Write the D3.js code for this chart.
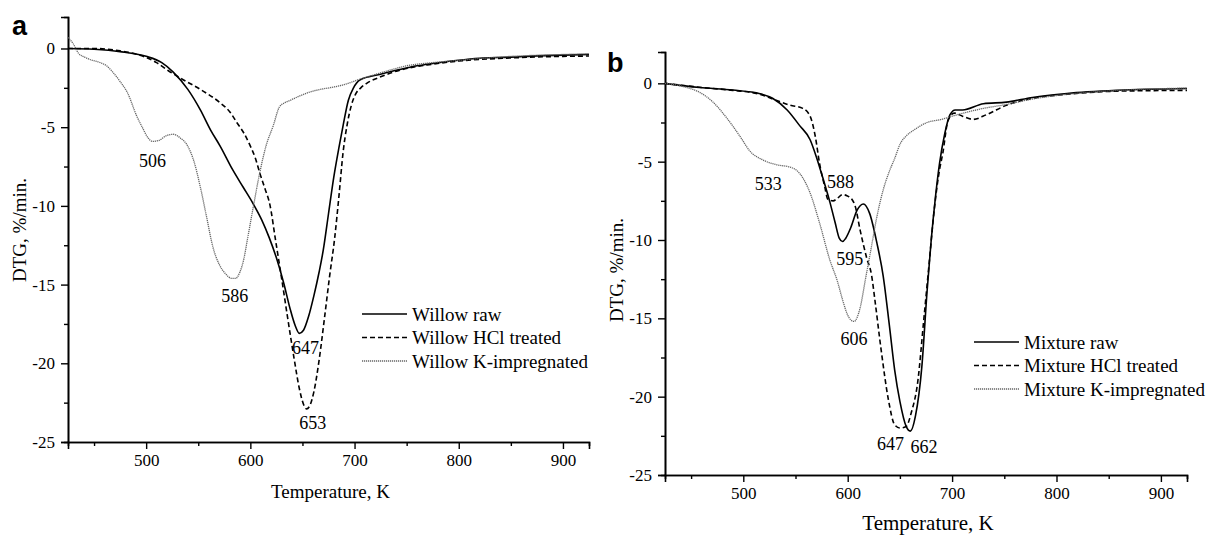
<!DOCTYPE html>
<html><head><meta charset="utf-8">
<script src="https://cdn.jsdelivr.net/npm/d3@7"></script>
<style>body{margin:0;background:#fff}svg{display:block}</style>
</head><body>
<svg id="c" width="1206" height="535"></svg>
<script>
// ---------- DATA ----------
const xMajorTicks = [500, 600, 700, 800, 900];
const xMinorTicks = [450, 550, 650, 750, 850];
const yMajorTicks = [0, -5, -10, -15, -20, -25];
const yMinorTicks = [-2.5, -7.5, -12.5, -17.5, -22.5];

// Panel a — Willow
const willowRawT = [425,450,475,500,515,526,540,552,562,571,583,593,603,611,618,625,632,638,643,647,651,656,661,666,670,675,680,685,689,694,699,705,724,743,760,775,800,823,850,875,900,925];
const willowRawV = [0,-0.05,-0.2,-0.5,-0.9,-1.5,-2.6,-3.9,-5.2,-6.2,-7.7,-8.8,-9.9,-10.9,-12.0,-13.3,-14.9,-16.5,-17.6,-18.1,-17.9,-17.0,-15.7,-14.2,-12.8,-10.5,-8.2,-6.3,-4.9,-3.3,-2.5,-2.0,-1.65,-1.34,-1.1,-0.95,-0.75,-0.6,-0.55,-0.47,-0.42,-0.38];
const willowHclT = [425,450,475,495,510,521,532,552,571,580,587,594,600,605,609,614,619,624,630,636,642,647,651,654,657,661,666,671,676,681,685,689,693,697,701,706,712,725,745,775,800,850,900,925];
const willowHclV = [0,0,-0.15,-0.45,-0.9,-1.4,-1.85,-2.6,-3.45,-4.0,-4.7,-5.4,-6.2,-7.0,-7.9,-8.9,-10.0,-12.1,-14.6,-17.2,-19.7,-21.6,-22.6,-22.9,-22.7,-21.8,-19.8,-17.2,-14.5,-12.0,-9.4,-6.6,-4.8,-3.6,-2.9,-2.5,-2.2,-1.8,-1.35,-1.0,-0.8,-0.6,-0.5,-0.48];
const willowKT = [425,430,435,441,446,456,462,468,475,482,491,497,501,506,512,519,526,533,539,546,552,558,564,570,576,582,586,590,594,597,603,609,615,622,628,633,638,648,658,667,680,690,703,715,730,750,775,800,850,900,925];
const willowKV = [0.7,0.3,-0.3,-0.55,-0.7,-0.9,-1.1,-1.5,-2.1,-2.8,-4.3,-5.1,-5.6,-5.9,-5.85,-5.55,-5.45,-5.7,-6.1,-7.2,-8.8,-10.7,-12.6,-13.7,-14.3,-14.6,-14.6,-14.2,-13.3,-12.2,-10.0,-7.9,-6.2,-4.9,-3.7,-3.45,-3.3,-3.0,-2.75,-2.6,-2.45,-2.3,-2.0,-1.75,-1.45,-1.1,-0.9,-0.75,-0.5,-0.38,-0.33];

// Panel b — Mixture
const mixRawT = [425,458,490,516,528,542,554,564,570,576,583,588,592,595,598,603,609,615,621,628,634,640,645,650,656,660,665,671,676,680,684,688,693,698,703,710,730,752,777,810,858,925];
const mixRawV = [0,-0.27,-0.43,-0.66,-0.95,-1.7,-2.7,-3.6,-4.7,-6.0,-7.6,-8.9,-9.9,-10.1,-9.9,-9.2,-8.1,-7.7,-8.3,-10.2,-12.3,-15.5,-18.3,-20.3,-21.9,-22.2,-21.2,-18.1,-13.3,-10.0,-7.3,-5.1,-3.2,-2.0,-1.7,-1.7,-1.3,-1.2,-0.9,-0.65,-0.45,-0.33];
const mixHclT = [425,458,490,516,532,545,557,564,569,573,578,581,586,590,595,600,604,607,612,618,623,626,632,639,645,650,656,661,667,673,678,683,688,691,696,702,710,720,733,752,777,810,858,925];
const mixHclV = [0,-0.25,-0.45,-0.7,-1.1,-1.4,-1.6,-2.1,-3.4,-5.1,-6.6,-7.4,-7.5,-7.35,-7.1,-7.2,-7.4,-7.8,-9.4,-11.1,-12.3,-13.8,-17.0,-20.2,-21.8,-22.0,-21.9,-21.0,-19.1,-15.0,-11.5,-8.0,-5.5,-4.5,-2.4,-1.9,-2.1,-2.3,-2.0,-1.4,-0.96,-0.7,-0.5,-0.45];
const mixKT = [425,442,458,471,484,497,506,519,532,545,554,564,573,583,590,595,600,603,606,612,617,622,628,634,640,645,650,657,663,676,690,700,730,752,777,810,860,925];
const mixKV = [0,-0.2,-0.57,-1.2,-2.2,-3.4,-4.3,-4.9,-5.2,-5.35,-5.75,-7.0,-8.9,-11.3,-12.6,-13.8,-14.8,-15.1,-15.2,-14.3,-12.5,-10.7,-8.5,-6.8,-5.6,-4.8,-3.9,-3.3,-3.0,-2.5,-2.3,-2.1,-1.6,-1.35,-1.0,-0.7,-0.45,-0.3];

const legendA = ["Willow raw", "Willow HCl treated", "Willow K-impregnated"];
const legendB = ["Mixture raw", "Mixture HCl treated", "Mixture K-impregnated"];
const peaksA = [["506",506,-7.1],["586",585,-15.7],["647",653,-19.0],["653",660,-23.8]];
const peaksB = [["533",524,-6.4],["588",593,-6.3],["595",602,-11.2],["606",606,-16.3],["647",641,-23.0],["662",673,-23.2]];

// ---------- DRAW ----------
const svg = d3.select("#c");
const serif = "'Liberation Serif','Times New Roman',serif";
const styles = [
  {stroke:"#000", width:1.6, dash:null},
  {stroke:"#000", width:1.6, dash:"5,3"},
  {stroke:"#666", width:1.3, dash:"1.2,0.8"}
];

function panel(cfg) {
  const x = d3.scaleLinear().domain([425, 925]).range([cfg.x0, cfg.x1]);
  const y = d3.scaleLinear().domain([2, -25]).range([cfg.y0, cfg.y1]);
  const g = svg.append("g");

  g.append("g").attr("transform", `translate(0,${cfg.y1})`)
    .call(d3.axisBottom(x).tickValues(xMajorTicks).tickSize(7).tickPadding(5).tickFormat(d3.format("d")));
  g.append("g").attr("transform", `translate(0,${cfg.y1})`)
    .call(d3.axisBottom(x).tickValues(xMinorTicks).tickSize(4).tickFormat(""));
  g.append("g").attr("transform", `translate(${cfg.x0},0)`)
    .call(d3.axisLeft(y).tickValues(yMajorTicks).tickSize(7).tickPadding(6).tickFormat(d => String(d)));
  g.append("g").attr("transform", `translate(${cfg.x0},0)`)
    .call(d3.axisLeft(y).tickValues(yMinorTicks).tickSize(4).tickFormat(""));
  g.selectAll(".domain").attr("stroke", "#000").attr("stroke-width", 1.6);
  g.selectAll(".tick line").attr("stroke", "#000").attr("stroke-width", 1.4);
  g.selectAll(".tick text").style("font-family", serif).style("font-size", "17px").attr("fill", "#000");

  const line = d3.line().x(d => x(d[0])).y(d => y(d[1])).curve(d3.curveMonotoneX);
  cfg.series.forEach((s, i) => {
    const pts = s[0].map((t, k) => [t, s[1][k]]);
    g.append("path").attr("d", line(pts)).attr("fill", "none")
      .attr("stroke", styles[i].stroke).attr("stroke-width", styles[i].width)
      .attr("stroke-dasharray", styles[i].dash);
  });

  cfg.peaks.forEach(p => {
    g.append("text").attr("x", x(p[1])).attr("y", y(p[2])).attr("dy", "0.35em")
      .attr("text-anchor", "middle").attr("font-family", serif).attr("font-size", 18).text(p[0]);
  });

  cfg.legend.forEach((name, i) => {
    const ly = cfg.legY + i * 23.5;
    g.append("line").attr("x1", cfg.legX).attr("x2", cfg.legX + 45).attr("y1", ly).attr("y2", ly)
      .attr("stroke", styles[i].stroke).attr("stroke-width", styles[i].width)
      .attr("stroke-dasharray", styles[i].dash);
    g.append("text").attr("x", cfg.legX + 50).attr("y", ly).attr("dy", "0.35em")
      .attr("font-family", serif).attr("font-size", 19).text(name);
  });

  g.append("text").attr("x", (cfg.x0 + cfg.x1) / 2 + 2).attr("y", cfg.xTitleY)
    .attr("text-anchor", "middle").attr("font-family", serif).attr("font-size", cfg.xTitleSize)
    .text("Temperature, K");
  g.append("text").attr("transform", `translate(${cfg.yTitleX},${cfg.yTitleY}) rotate(-90)`)
    .attr("text-anchor", "middle").attr("font-family", serif).attr("font-size", 19)
    .text("DTG, %/min.");
  g.append("text").attr("x", cfg.tagX).attr("y", cfg.tagY)
    .attr("font-family", "'Liberation Sans',Arial,sans-serif").attr("font-weight", "bold")
    .attr("font-size", 27).text(cfg.tag);
}

panel({x0:68, x1:589, y0:17, y1:442,
  series:[[willowRawT,willowRawV],[willowHclT,willowHclV],[willowKT,willowKV]],
  peaks:peaksA, legend:legendA, legX:362, legY:314,
  xTitleY:498, xTitleSize:19, yTitleX:26, yTitleY:230, tag:"a", tagX:12, tagY:35});

panel({x0:665, x1:1187, y0:52, y1:475,
  series:[[mixRawT,mixRawV],[mixHclT,mixHclV],[mixKT,mixKV]],
  peaks:peaksB, legend:legendB, legX:974, legY:342,
  xTitleY:530, xTitleSize:21, yTitleX:623, yTitleY:270, tag:"b", tagX:607, tagY:72});
</script>
</body></html>
